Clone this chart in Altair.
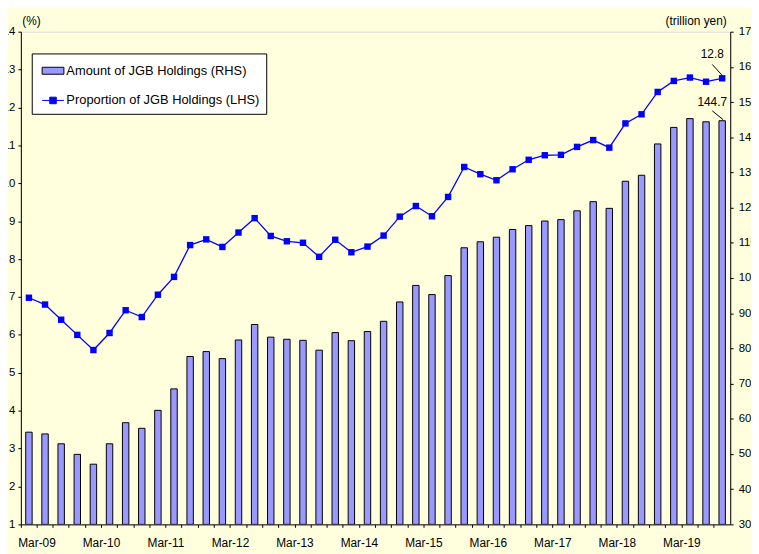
import altair as alt
import pandas as pd

quarters = [f"{m}-{y:02d}" for y in range(9, 20) for m in ["Mar", "Jun", "Sep", "Dec"]]

amount = [56.2, 55.7, 52.9, 49.9, 47.1, 52.9, 58.9, 57.3, 62.4, 68.5,
          77.7, 79.1, 77.1, 82.4, 86.8, 83.2, 82.6, 82.3, 79.5, 84.5,
          82.2, 84.8, 87.7, 93.2, 97.9, 95.3, 100.7, 108.6, 110.3, 111.6,
          113.8, 114.9, 116.2, 116.6, 119.1, 121.7, 119.8, 127.5, 129.2, 138.1,
          142.8, 145.3, 144.4, 144.7]

proportion = [6.98, 6.80, 6.40, 6.00, 5.60, 6.05, 6.65, 6.47, 7.06, 7.53,
              8.37, 8.52, 8.32, 8.70, 9.08, 8.61, 8.47, 8.43, 8.06, 8.51,
              8.18, 8.33, 8.62, 9.12, 9.40, 9.13, 9.64, 10.43, 10.24, 10.08,
              10.37, 10.62, 10.74, 10.75, 10.96, 11.14, 10.94, 11.58, 11.82, 12.41,
              12.70, 12.79, 12.68, 12.77]

series_names = ["Amount of JGB Holdings (RHS)", "Proportion of JGB Holdings (LHS)"]

df = pd.DataFrame({"q": quarters, "amount": amount, "prop": proportion,
                   "series": series_names[1]})

FONT = "Liberation Sans"
W, H = 717, 498

x_enc = alt.X("q:N", sort=quarters, title=None,
              scale=alt.Scale(paddingInner=0, paddingOuter=0),
              axis=alt.Axis(bandPosition=0, labelOffset=W / 44 / 2,
                            labelExpr="substring(datum.value,0,3)=='Mar' ? datum.value : ''",
                            labelAngle=0, labelFontSize=12, labelPadding=10,
                            tickSize=3, tickColor="black", domainColor="black",
                            labelColor="black", labelFont=FONT))

y_left = alt.Y("prop:Q", scale=alt.Scale(domain=[1, 14], nice=False, zero=False),
               axis=alt.Axis(orient="left", values=list(range(1, 15)), title="(%)",
                             titleAngle=0, titleAlign="left", titleBaseline="alphabetic",
                             titleX=1, titleY=-7, titleFontWeight="normal",
                             titleFontSize=12, titleFont=FONT, titleColor="black",
                             labelFontSize=11.5, labelPadding=3, tickSize=3,
                             tickColor="black", domainColor="black",
                             labelColor="black", labelFont=FONT, grid=False))

y_right = alt.Y("amount:Q", scale=alt.Scale(domain=[30, 170], nice=False, zero=False),
                axis=alt.Axis(orient="right", values=list(range(30, 171, 10)),
                              title="(trillion yen)", titleAngle=0, titleAlign="right",
                              titleBaseline="alphabetic", titleX=-4, titleY=-7,
                              titleFontWeight="normal", titleFontSize=12, titleFont=FONT,
                              titleColor="black", labelFontSize=11.5, labelPadding=5,
                              tickSize=3, tickColor="black", domainColor="black",
                              labelColor="black", labelFont=FONT, grid=False))

base = alt.Chart(df)

bars = base.mark_bar(size=6.5, fill="#9999FF", stroke="#000000", strokeWidth=1,
                     clip=True).encode(x=x_enc, y=y_right, y2=alt.datum(30))

last = "datum.q == 'Dec-19'"

bar_label = base.transform_filter(last).mark_text(
    dx=-10, dy=-19, fontSize=12, font=FONT, color="black").encode(
    x=x_enc, y=y_right, text=alt.Text("amount:Q", format=".1f"))

bar_leader = base.transform_filter(last).mark_rule(
    color="black", strokeWidth=1, xOffset=-10, yOffset=-10, x2Offset=1, y2Offset=-1).encode(
    x=x_enc, x2="q:N", y=y_right, y2="amount:Q")

line = base.mark_line(color="#0000FF", strokeWidth=1.3).encode(x=x_enc, y=y_left)
points = base.mark_point(shape="square", filled=True, size=42, color="#0000FF",
                         opacity=1).encode(x=x_enc, y=y_left)

legend_def = dict(orient="none", legendX=11, legendY=22, title=None,
                  strokeColor="black", fillColor="white", padding=6, rowPadding=11,
                  symbolOffset=4, symbolSize=484, symbolOpacity=1, symbolStrokeWidth=1,
                  labelOffset=2, labelFontSize=13, labelFont=FONT, labelColor="black",
                  labelLimit=400)

legend_layer = base.mark_point(filled=True, opacity=0).encode(
    x=x_enc, y=y_left,
    color=alt.Color("series:N", scale=alt.Scale(domain=series_names,
                                               range=["#9999FF", "#0000FF"]),
                    legend=alt.Legend(**legend_def)),
    stroke=alt.Stroke("series:N", scale=alt.Scale(domain=series_names,
                                                 range=["#000000", "#0000FF"]),
                      legend=alt.Legend(**legend_def)),
    shape=alt.Shape("series:N", scale=alt.Scale(domain=series_names,
                                               range=["M-1,-0.32H1V0.32H-1Z",
                                                      "M-1,0H1M-0.3,-0.3H0.3V0.3H-0.3Z"]),
                    legend=alt.Legend(**legend_def)))

line_label = base.transform_filter(last).mark_text(
    dx=-10, dy=-25, fontSize=12, font=FONT, color="black").encode(
    x=x_enc, y=y_left, text=alt.Text("prop:Q", format=".1f"))

line_leader = base.transform_filter(last).mark_rule(
    color="black", strokeWidth=1, xOffset=-10, yOffset=-14, x2Offset=0, y2Offset=-3).encode(
    x=x_enc, x2="q:N", y=y_left, y2="prop:Q")

right = alt.layer(bars, bar_leader, bar_label)
left = alt.layer(line, points, legend_layer, line_leader, line_label)

chart = alt.layer(right, left).resolve_scale(y="independent").properties(
    width=W, height=H,
    padding={"left": 13, "top": 21, "right": 21, "bottom": 27},
    autosize=alt.AutoSizeParams(type="none"),
    background="#FFFFDD",
).configure_view(stroke="#C0C0C0", fill="white").configure(font=FONT)

chart.save("out.html", embed_options={"renderer": "svg", "actions": False})
